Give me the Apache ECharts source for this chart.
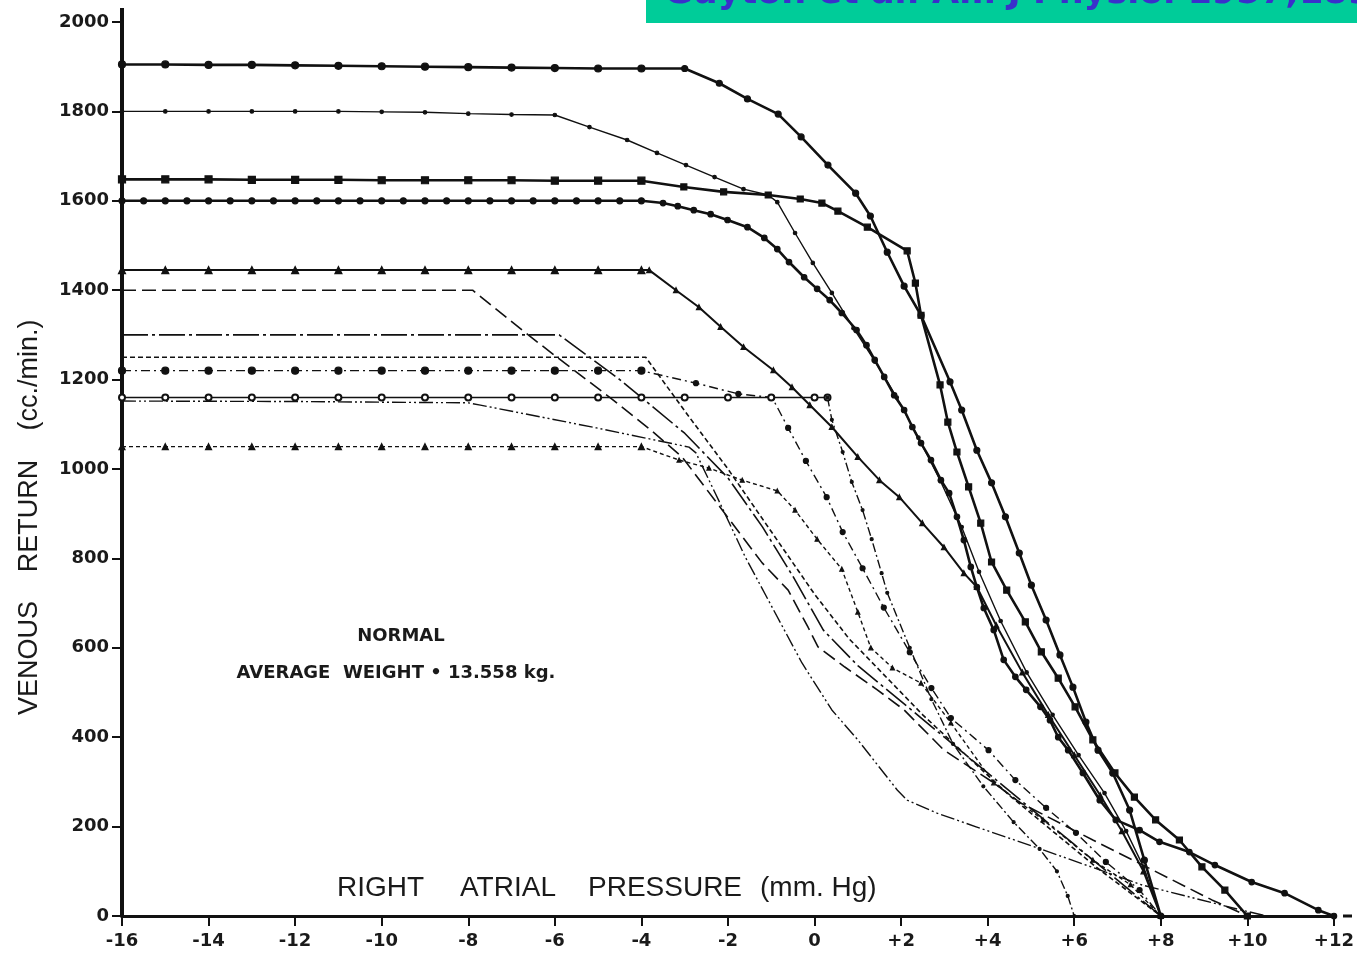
<!DOCTYPE html>
<html><head><meta charset="utf-8">
<script src="https://cdn.jsdelivr.net/npm/echarts@6/dist/echarts.min.js"></script>
<style>html,body{margin:0;padding:0;background:#fff}#c{width:1357px;height:959px}</style>
</head><body><div id="c"></div>
<script>
// ---- DATA (right atrial pressure mmHg, venous return cc/min) ----
const curve1900 = [[-16,1905],[-15,1905],[-14,1904],[-13,1904],[-12,1903],[-11,1902],[-10,1901],[-9,1900],[-8,1899],[-7,1898],[-6,1897],[-5,1896],[-4,1896],[-3,1896],[-2.2,1863],[-1.55,1828],[-0.84,1794],[-0.31,1743],[0.31,1680],[0.95,1617],[1.29,1566],[1.68,1485],[2.07,1409],[2.46,1344],[3.13,1195],[3.4,1132],[3.75,1042],[4.09,969],[4.41,893],[4.73,812],[5.01,740],[5.35,662],[5.67,584],[5.97,512],[6.27,434],[6.55,371],[6.89,320],[7.28,237],[7.62,125],[8,0]];
const curve1800 = [[-16,1800],[-15,1800],[-14,1800],[-13,1800],[-12,1800],[-11,1800],[-10,1799],[-9,1798],[-8,1795],[-7,1793],[-6,1792],[-5.2,1765],[-4.33,1736],[-3.64,1707],[-2.97,1680],[-2.31,1653],[-1.64,1626],[-1.07,1613],[-0.86,1597],[-0.45,1528],[-0.04,1461],[0.4,1394],[0.9,1315],[1.4,1240],[1.9,1160],[2.4,1070],[2.9,975],[3.4,870],[3.8,770],[4.3,660],[4.9,545],[5.5,450],[6.1,360],[6.7,275],[7.2,190],[7.6,110],[8,0]];
const curve1650 = [[-16,1648],[-15,1648],[-14,1648],[-13,1647],[-12,1647],[-11,1647],[-10,1646],[-9,1646],[-8,1646],[-7,1646],[-6,1645],[-5,1645],[-4,1645],[-3.02,1631],[-2.1,1620],[-1.07,1613],[-0.33,1604],[0.17,1595],[0.54,1577],[1.22,1541],[2.14,1488],[2.33,1416],[2.46,1344],[2.9,1188],[3.08,1105],[3.29,1038],[3.56,960],[3.84,879],[4.09,792],[4.44,729],[4.87,658],[5.24,591],[5.63,532],[6.02,468],[6.43,394],[6.94,320],[7.39,266],[7.88,215],[8.43,170],[8.95,110],[9.48,58],[10,0]];
const curve1600 = [[-16,1600],[-15.5,1600],[-15,1600],[-14.5,1600],[-14,1600],[-13.5,1600],[-13,1600],[-12.5,1600],[-12,1600],[-11.5,1600],[-11,1600],[-10.5,1600],[-10,1600],[-9.5,1600],[-9,1600],[-8.5,1600],[-8,1600],[-7.5,1600],[-7,1600],[-6.5,1600],[-6,1600],[-5.5,1600],[-5,1600],[-4.5,1600],[-4,1600],[-3.5,1595],[-3.16,1588],[-2.79,1579],[-2.4,1570],[-2.01,1557],[-1.55,1541],[-1.16,1517],[-0.86,1492],[-0.59,1463],[-0.24,1429],[0.06,1403],[0.35,1378],[0.63,1349],[0.97,1311],[1.2,1277],[1.39,1244],[1.61,1206],[1.84,1165],[2.07,1132],[2.26,1094],[2.46,1058],[2.69,1020],[2.92,975],[3.11,946],[3.29,893],[3.45,841],[3.61,781],[3.75,736],[3.91,689],[4.14,640],[4.37,573],[4.64,535],[4.89,506],[5.22,468],[5.44,438],[5.63,400],[5.86,371],[6.2,320],[6.59,259],[6.96,215],[7.51,192],[7.97,166],[8.66,143],[9.25,114],[10.1,76],[10.86,51],[11.64,13],[12,0]];
const curve1450 = [[-16,1445],[-15,1445],[-14,1445],[-13,1445],[-12,1445],[-11,1445],[-10,1445],[-9,1445],[-8,1445],[-7,1445],[-6,1445],[-5,1445],[-4,1445],[-3.82,1445],[-3.2,1400],[-2.67,1362],[-2.17,1318],[-1.64,1273],[-0.95,1221],[-0.52,1183],[-0.11,1143],[0.4,1094],[1.0,1027],[1.5,975],[1.96,937],[2.49,879],[2.99,825],[3.45,767],[3.75,736],[4.2,650],[4.8,545],[5.4,450],[6,360],[6.6,270],[7.1,190],[7.6,100],[8,0]];
const curve1400 = [[-16,1400],[-7.9,1400],[-6.67,1304],[-5.95,1250],[-4.74,1161],[-3.78,1087],[-3.06,1027],[-1.21,790],[-0.61,729],[-0.15,646],[0.08,602],[0.7,557],[1.45,506],[2.07,461],[2.99,371],[4.14,298],[4.76,253],[6.43,170],[7.81,103],[9.18,36],[10,0]];
const curve1300 = [[-16,1300],[-5.9,1300],[-4.5,1200],[-3,1080],[-2,980],[-1.2,870],[-0.5,760],[0.2,640],[1,560],[2,480],[3,400],[4,320],[5,240],[6,160],[7,80],[8,0]];
const curve1250 = [[-16,1250],[-3.9,1250],[-3,1130],[-2,1000],[-1,860],[0,720],[0.8,620],[1.6,540],[2.5,450],[3.5,360],[4.5,270],[5.5,190],[6.5,110],[8,0]];
const curve1220 = [[-16,1220],[-15,1220],[-14,1220],[-13,1220],[-12,1220],[-11,1220],[-10,1220],[-9,1220],[-8,1220],[-7,1220],[-6,1220],[-5,1220],[-4,1220],[-2.74,1192],[-1.76,1168],[-0.98,1160],[-0.61,1092],[-0.2,1018],[0.28,937],[0.65,859],[1.11,778],[1.6,690],[2.2,590],[2.7,510],[3.15,443],[4.02,371],[4.64,304],[5.35,242],[6.04,186],[6.73,121],[7.51,58],[8,0]];
const curve1160 = [[-16,1160],[-15,1160],[-14,1160],[-13,1160],[-12,1160],[-11,1160],[-10,1160],[-9,1160],[-8,1160],[-7,1160],[-6,1160],[-5,1160],[-4,1160],[-3,1160],[-2,1160],[-1,1160],[0,1160],[0.3,1160],[0.4,1110],[0.65,1038],[0.86,971],[1.11,908],[1.32,843],[1.55,767],[1.68,723],[2.2,600],[2.7,485],[3.2,385],[3.9,290],[4.6,210],[5.2,150],[5.6,100],[5.85,45],[6,0]];
const curve1150 = [[-16,1152],[-12,1151],[-8,1148],[-7.72,1143],[-5.04,1092],[-2.9,1049],[-2.74,1036],[-2.22,931],[-1.6,803],[-0.29,566],[0.4,461],[1.0,394],[1.91,282],[2.14,259],[2.83,230],[3.75,199],[5.28,148],[7.58,69],[9.87,13],[10.45,0]];
const curve1050 = [[-16,1050],[-15,1050],[-14,1050],[-13,1050],[-12,1050],[-11,1050],[-10,1050],[-9,1050],[-8,1050],[-7,1050],[-6,1050],[-5,1050],[-4,1050],[-3.13,1020],[-2.44,1002],[-1.67,975],[-0.86,951],[-0.45,908],[0.06,843],[0.63,776],[1.0,680],[1.3,600],[1.8,555],[2.46,521],[3.15,432],[4.14,298],[5.28,215],[6.43,125],[7.3,70],[8,0]];
const yTickValues = [0,200,400,600,800,1000,1200,1400,1600,1800,2000];

// ---- CHART ----
const chart = echarts.init(document.getElementById('c'));
const BLK = '#111';
function ser(data, width, dash, symbol, size, sizeLate) {
  const late = sizeLate == null ? size : sizeLate;
  return {
    type: 'line', data: data, smooth: false, silent: true,
    lineStyle: { color: BLK, width: width, type: dash },
    symbol: symbol || 'none',
    symbolSize: symbol ? (v => (v[0] <= -3.9 ? size : late)) : 0,
    showSymbol: !!symbol,
    itemStyle: { color: BLK, borderColor: BLK, borderWidth: 1.2 },
    emphasis: { disabled: true }, z: 3
  };
}
const j1160a = curve1160.filter(p => p[0] <= 0.3);
const j1160b = curve1160.filter(p => p[0] >= 0.3);
const series = [
  ser(curve1900, 2.6, 'solid', 'circle', 7, 6),
  ser(curve1800, 1.4, 'solid', 'circle', 3.5, 3.5),
  ser(curve1650, 2.6, 'solid', 'rect', 7, 6),
  ser(curve1600, 2.6, 'solid', 'circle', 6, 5.5),
  ser(curve1450, 2.0, 'solid', 'triangle', 7, 5),
  ser(curve1400, 1.6, [14, 6]),
  ser(curve1300, 1.6, [26, 4, 3, 4]),
  ser(curve1250, 1.6, [5, 3]),
  ser(curve1220, 1.4, [9, 4, 2, 4], 'circle', 7, 5),
  ser(j1160a, 1.6, 'solid', 'emptyCircle', 6, 6),
  ser(j1160b, 1.4, [9, 3, 2, 3], 'circle', 3, 3),
  ser(curve1150, 1.4, [14, 3, 2, 3, 2, 3]),
  ser(curve1050, 1.4, [4, 3], 'triangle', 6, 4)
];

const tickFont = { fontFamily: 'DejaVu Sans', fontWeight: 'bold', fontSize: 18, color: '#1a1a1a' };
const option = {
  animation: false,
  backgroundColor: '#ffffff',
  grid: { left: 122, right: 14, top: 22, bottom: 43, containLabel: false },
  xAxis: {
    type: 'value', min: -16, max: 12, interval: 2,
    axisLine: { show: true, onZero: false, lineStyle: { color: BLK, width: 3 } },
    axisTick: { show: true, inside: false, length: 10, lineStyle: { color: BLK, width: 2 } },
    axisLabel: Object.assign({ margin: 16, formatter: v => (v > 0 ? '+' + v : String(v)) }, tickFont),
    splitLine: { show: false }
  },
  yAxis: {
    type: 'value', min: 0, max: 2000, interval: 200,
    axisLine: { show: true, onZero: false, lineStyle: { color: BLK, width: 4 } },
    axisTick: { show: true, inside: false, length: 10, lineStyle: { color: BLK, width: 2 } },
    axisLabel: Object.assign({ margin: 13, formatter: v => (yTickValues.indexOf(v) >= 0 ? String(v) : '') }, tickFont),
    splitLine: { show: false }
  },
  series: series,
  graphic: [
    { type: 'line', shape: { x1: 122, y1: 22, x2: 122, y2: 8 }, style: { stroke: BLK, lineWidth: 4 } },
    { type: 'line', shape: { x1: 1343, y1: 916, x2: 1352, y2: 916 }, style: { stroke: BLK, lineWidth: 3 } },
    { type: 'text', x: 401, y: 636, style: { text: 'NORMAL', x: 0, y: 0, fill: '#1a1a1a', font: 'bold 18px "DejaVu Sans"', textAlign: 'center', textVerticalAlign: 'middle' } },
    { type: 'text', x: 396, y: 673, style: { text: 'AVERAGE  WEIGHT \u2022 13.558 kg.', x: 0, y: 0, fill: '#1a1a1a', font: 'bold 18px "DejaVu Sans"', textAlign: 'center', textVerticalAlign: 'middle' } },
    { type: 'text', x: 337, y: 888, style: { text: 'RIGHT', x: 0, y: 0, fill: '#1a1a1a', font: '28px "Liberation Sans"', textAlign: 'left', textVerticalAlign: 'middle' } },
    { type: 'text', x: 460, y: 888, style: { text: 'ATRIAL', x: 0, y: 0, fill: '#1a1a1a', font: '28px "Liberation Sans"', textAlign: 'left', textVerticalAlign: 'middle' } },
    { type: 'text', x: 588, y: 888, style: { text: 'PRESSURE', x: 0, y: 0, fill: '#1a1a1a', font: '28px "Liberation Sans"', textAlign: 'left', textVerticalAlign: 'middle' } },
    { type: 'text', x: 760, y: 888, style: { text: '(mm. Hg)', x: 0, y: 0, fill: '#1a1a1a', font: '28px "Liberation Sans"', textAlign: 'left', textVerticalAlign: 'middle' } },
    { type: 'text', x: 30, y: 658, rotation: Math.PI / 2, style: { text: 'VENOUS', x: 0, y: 0, fill: '#1a1a1a', font: '27px "Liberation Sans"', textAlign: 'center', textVerticalAlign: 'middle' } },
    { type: 'text', x: 30, y: 516, rotation: Math.PI / 2, style: { text: 'RETURN', x: 0, y: 0, fill: '#1a1a1a', font: '27px "Liberation Sans"', textAlign: 'center', textVerticalAlign: 'middle' } },
    { type: 'text', x: 30, y: 375, rotation: Math.PI / 2, style: { text: '(cc./min.)', x: 0, y: 0, fill: '#1a1a1a', font: '27px "Liberation Sans"', textAlign: 'center', textVerticalAlign: 'middle' } },
    { type: 'rect', z: 100, shape: { x: 646, y: 0, width: 711, height: 23 }, style: { fill: '#00CC99' } },
    { type: 'text', z: 101, x: 664, y: 11, style: { text: 'Guyton et al. Am J Physiol 1957;189:609-615', x: 0, y: 0, fill: '#3A2FCB', font: 'bold 35px "DejaVu Sans"', textAlign: 'left', textVerticalAlign: 'bottom' } }
  ]
};
chart.setOption(option);
</script>
</body></html>
